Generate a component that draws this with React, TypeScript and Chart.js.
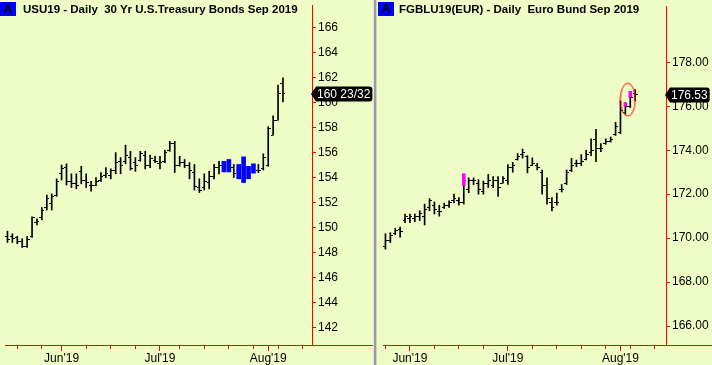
import React, { useEffect, useRef } from "react";
import { Chart, registerables } from "chart.js";

Chart.register(...registerables);

const FONT = "'Liberation Sans', Arial, Helvetica, sans-serif";
const BG = "#EDFDC5";

// ---------------- USU19 (left panel) ----------------
const usTitle = "USU19 - Daily  30 Yr U.S.Treasury Bonds Sep 2019";
const usOpen = [
  149.3, 149.3, 149.2, 148.9, 148.5, 149.3, 150.4, 150.8, 151.6, 151.9,
  152.6, 154.3, 154.8, 153.7, 153.5, 154.5, 153.8, 153.4, 153.4, 153.8,
  154.2, 154.2, 154.6, 155.3, 155.3, 155.6, 155.2, 155.4, 155.8, 155.0,
  155.4, 155.1, 155.3, 156.2, 156.7, 155.0, 155.2, 155.0, 154.4, 153.2,
  153.2, 153.6, 154.1, 154.8, 155.0, 155.2, 154.8, 154.8, 155.0, 154.6,
  154.9, 154.6, 154.7, 155.0, 157.4, 158.6, 161.55,
];
const usHigh = [
  149.7, 149.5, 149.3, 149.1, 149.3, 150.85, 150.7, 151.6, 152.6, 152.7,
  153.9, 155.0, 155.1, 154.3, 154.3, 154.9, 154.3, 153.7, 154.0, 154.4,
  154.8, 154.7, 156.0, 155.6, 156.6, 156.1, 155.6, 156.1, 156.1, 155.8,
  155.7, 155.7, 156.2, 156.9, 156.9, 155.7, 155.45, 155.2, 155.05, 153.9,
  154.3, 154.5, 155.05, 155.3, 155.3, 155.45, 155.05, 155.05, 155.66, 154.9,
  155.1, 155.05, 155.9, 158.08, 158.95, 161.4, 161.98,
];
const usLow = [
  148.8, 148.8, 148.7, 148.4, 148.4, 149.2, 150.2, 150.6, 151.4, 151.4,
  152.5, 153.8, 153.4, 153.2, 153.1, 153.5, 153.2, 152.9, 153.35, 153.7,
  154.0, 153.9, 154.3, 154.3, 155.1, 154.6, 154.5, 155.3, 154.7, 154.8,
  155.2, 154.7, 155.2, 156.1, 154.4, 154.9, 154.8, 153.9, 153.0, 152.8,
  153.0, 153.1, 153.9, 154.3, 154.45, 154.45, 154.0, 153.9, 153.6, 153.9,
  154.35, 154.4, 154.6, 154.9, 157.4, 158.6, 160.05,
];
const usClose = [
  149.0, 149.1, 148.9, 148.5, 149.0, 150.8, 150.5, 151.4, 152.3, 152.5,
  153.7, 154.7, 153.7, 153.5, 153.4, 153.8, 153.6, 153.4, 153.7, 154.1,
  154.3, 154.6, 155.2, 155.0, 155.8, 154.7, 155.0, 155.9, 155.0, 155.5,
  155.3, 155.2, 156.0, 156.7, 155.0, 155.2, 155.0, 154.6, 153.3, 153.0,
  153.7, 154.1, 154.8, 155.0, 154.6, 154.6, 154.3, 154.2, 154.0, 154.1,
  154.5, 154.6, 155.6, 157.95, 158.55, 160.7, 160.71875,
];
const usBlueBars = [44, 45, 47, 48, 49, 50];
const usYTicks = [142, 144, 146, 148, 150, 152, 154, 156, 158, 160, 162, 164, 166];
const usMonthAt = [11, 31, 53];
const usMonthLabels = ["Jun'19", "Jul'19", "Aug'19"];
const usWeekAt = [2, 7, 16, 21, 26, 35, 40, 45, 50, 55, 60];

// ---------------- FGBLU19 (right panel) ----------------
const fgTitle = "FGBLU19(EUR) - Daily  Euro Bund Sep 2019";
const fgOpen = [
  169.6, 169.9, 170.2, 170.4, 170.8, 170.9, 170.9, 171.0, 171.0, 171.4,
  171.5, 171.2, 171.4, 171.5, 171.7, 171.7, 171.6, 172.2, 172.6, 172.5,
  172.1, 172.5, 172.4, 172.6, 172.5, 172.6, 173.2, 173.6, 173.8, 173.7,
  173.3, 173.3, 173.0, 172.4, 171.6, 171.6, 172.2, 172.5, 173.1, 173.4,
  173.4, 173.6, 173.9, 174.5, 174.1, 174.3, 174.4, 174.7, 174.8, 175.7,
  176.0, 176.6,
];
const fgHigh = [
  170.2, 170.25, 170.45, 170.5, 171.1, 171.1, 171.1, 171.25, 171.55, 171.8,
  171.65, 171.5, 171.6, 171.7, 172.0, 171.85, 172.9, 172.74, 172.74, 172.66,
  172.6, 172.9, 172.8, 172.8, 172.8, 173.35, 173.45, 173.85, 174.05, 173.75,
  173.65, 173.4, 173.1, 172.74, 171.85, 172.05, 172.44, 173.1, 173.63, 173.55,
  173.8, 174.0, 174.52, 174.95, 174.3, 174.52, 174.6, 175.27, 176.24, 176.16,
  176.68, 176.76,
];
const fgLow = [
  169.5, 169.8, 170.15, 170.05, 170.7, 170.7, 170.75, 170.8, 170.6, 171.25,
  171.1, 171.0, 171.35, 171.4, 171.6, 171.5, 171.55, 172.07, 172.44, 172.0,
  172.0, 172.3, 172.3, 171.9, 172.5, 172.44, 173.0, 173.55, 173.64, 172.97,
  173.3, 173.1, 172.0, 171.55, 171.24, 171.5, 172.1, 172.44, 173.03, 173.25,
  173.3, 173.56, 173.75, 173.48, 173.93, 174.27, 174.37, 174.67, 174.75, 175.64,
  175.94, 176.24,
];
const fgClose = [
  169.9, 170.1, 170.35, 170.3, 171.0, 171.0, 171.0, 171.1, 171.3, 171.7,
  171.3, 171.2, 171.5, 171.6, 171.8, 171.6, 172.6, 172.6, 172.6, 172.2,
  172.5, 172.6, 172.6, 172.3, 172.7, 173.2, 173.3, 173.7, 173.9, 173.2,
  173.4, 173.2, 172.4, 171.8, 171.4, 171.6, 172.2, 173.0, 173.3, 173.4,
  173.5, 173.8, 174.0, 174.1, 174.1, 174.4, 174.5, 175.1, 175.8, 176.0,
  176.4, 176.53,
];
const fgMagentaAt = [16, 49, 50];
const fgMagentaLow = [172.4, 176.01, 176.42];
const fgMagentaHigh = [172.93, 176.16, 176.68];
const fgCircleX = [49.5];
const fgCircleY = [176.3];
const fgYTicks = [166, 168, 170, 172, 174, 176, 178];
const fgMonthAt = [5, 25, 48];
const fgMonthLabels = ["Jun'19", "Jul'19", "Aug'19"];
const fgWeekAt = [0, 10, 15, 20, 30, 35, 40, 45, 50, 55];

const fmt32 = (v: number) => {
  const whole = Math.floor(v);
  const n = Math.round((v - whole) * 32);
  return `${whole} ${n}/32`;
};

function tickImage(side: "left" | "right") {
  const c = document.createElement("canvas");
  c.width = 5;
  c.height = 1;
  const g = c.getContext("2d")!;
  g.fillStyle = "#000";
  g.fillRect(side === "left" ? 0 : 3, 0, 2, 1);
  return c;
}

function ellipseImage() {
  const c = document.createElement("canvas");
  c.width = 17;
  c.height = 35;
  const g = c.getContext("2d")!;
  g.strokeStyle = "#FF0000";
  g.lineWidth = 1;
  g.beginPath();
  g.ellipse(8.5, 17.5, 7.5, 16.5, 0, 0, Math.PI * 2);
  g.stroke();
  return c;
}

type Spec = {
  open: number[];
  high: number[];
  low: number[];
  close: number[];
  wideAt: number[];
  wideColor: string;
  markAt: number[];
  markLow: number[];
  markHigh: number[];
  markColor: string;
  circleX: number[];
  circleY: number[];
  yTicks: number[];
  yMin: number;
  yMax: number;
  yFormat: (v: number) => string;
  xMin: number;
  xMax: number;
  monthAt: number[];
  monthLabels: string[];
  weekAt: number[];
  axisWidth: number;
  tagText: string;
};

function buildConfig(s: Spec): any {
  const openImg = tickImage("left");
  const closeImg = tickImage("right");
  const ellImg = ellipseImage();
  const idx = s.open.map((_, i) => i);
  const normal = idx.filter((i) => !s.wideAt.includes(i));
  const last = s.close[s.close.length - 1];

  const datasets: any[] = [
    {
      type: "scatter",
      data: s.circleX.map((x, j) => ({ x, y: s.circleY[j] })),
      pointStyle: ellImg,
      pointRadius: 5,
      order: 0,
    },
    {
      type: "bar",
      data: s.markAt.map((x, j) => ({ x, y: [s.markLow[j], s.markHigh[j]] })),
      backgroundColor: s.markColor,
      barThickness: 3,
      grouped: false,
      order: 1,
    },
    {
      type: "scatter",
      data: normal.map((i) => ({ x: i, y: s.open[i] })),
      pointStyle: openImg,
      pointRadius: 3,
      order: 2,
    },
    {
      type: "scatter",
      data: normal.map((i) => ({ x: i, y: s.close[i] })),
      pointStyle: closeImg,
      pointRadius: 3,
      order: 2,
    },
    {
      type: "bar",
      data: s.wideAt.map((i) => ({ x: i, y: [s.low[i], s.high[i]] })),
      backgroundColor: s.wideColor,
      barThickness: 4,
      grouped: false,
      order: 3,
    },
    {
      type: "bar",
      data: normal.map((i) => ({ x: i, y: [s.low[i], s.high[i]] })),
      backgroundColor: "#000000",
      barThickness: 1,
      grouped: false,
      order: 4,
    },
  ].filter((d) => d.data.length > 0);

  const tagPlugin = {
    id: "priceTag",
    afterDraw(chart: any) {
      const { ctx, chartArea, scales } = chart;
      const y = Math.round(scales.y.getPixelForValue(last));
      const x0 = chartArea.right - 1;
      ctx.save();
      ctx.font = `12px ${FONT}`;
      const w = ctx.measureText(s.tagText).width;
      const h = 15;
      const bx = x0 + 5;
      const r = 3;
      const top = y - h / 2;
      const right = bx + w + 3;
      ctx.fillStyle = "#000";
      ctx.beginPath();
      ctx.moveTo(x0, y);
      ctx.lineTo(bx, top);
      ctx.lineTo(right - r, top);
      ctx.quadraticCurveTo(right, top, right, top + r);
      ctx.lineTo(right, top + h - r);
      ctx.quadraticCurveTo(right, top + h, right - r, top + h);
      ctx.lineTo(bx, top + h);
      ctx.closePath();
      ctx.fill();
      ctx.fillStyle = "#fff";
      ctx.textBaseline = "middle";
      ctx.textAlign = "left";
      ctx.fillText(s.tagText, bx + 1, y + 0.5);
      ctx.restore();
    },
  };

  return {
    type: "scatter",
    data: { datasets },
    plugins: [tagPlugin],
    options: {
      animation: false,
      responsive: false,
      events: [],
      layout: { padding: 0 },
      plugins: { legend: { display: false }, tooltip: { enabled: false }, title: { display: false } },
      scales: {
        x: {
          type: "linear",
          position: "bottom",
          min: s.xMin,
          max: s.xMax,
          offset: false,
          afterBuildTicks: (sc: any) => {
            sc.ticks = [...s.monthAt, ...s.weekAt].sort((a, b) => a - b).map((v) => ({ value: v }));
          },
          afterFit: (sc: any) => {
            sc.height = 20;
            sc.paddingLeft = 0;
            sc.paddingRight = 0;
          },
          ticks: {
            autoSkip: false,
            maxRotation: 0,
            minRotation: 0,
            padding: 0,
            color: "#000",
            font: { family: FONT, size: 12 },
            callback: (v: number) => {
              const j = s.monthAt.indexOf(v);
              return j >= 0 ? s.monthLabels[j] : "";
            },
          },
          grid: {
            offset: false,
            drawOnChartArea: false,
            tickLength: 6,
            tickColor: "#FF0000",
            tickWidth: 1,
            tickBorderDash: (c: any) =>
              c.tick && s.monthAt.includes(c.tick.value) ? [] : [3, 30],
          },
          border: { color: "#FF0000", width: 1 },
        },
        y: {
          type: "linear",
          position: "right",
          min: s.yMin,
          max: s.yMax,
          afterBuildTicks: (sc: any) => {
            sc.ticks = s.yTicks.map((v) => ({ value: v }));
          },
          afterFit: (sc: any) => {
            sc.width = s.axisWidth;
            sc.paddingTop = 0;
            sc.paddingBottom = 0;
          },
          ticks: {
            padding: 2,
            color: "#000",
            font: { family: FONT, size: 12 },
            callback: (v: number) => s.yFormat(v),
          },
          grid: { drawOnChartArea: false, tickLength: 4, tickColor: "#FF0000" },
          border: { color: "#FF0000", width: 1 },
        },
      },
    },
  };
}

export default function App() {
  const leftRef = useRef<HTMLCanvasElement>(null);
  const rightRef = useRef<HTMLCanvasElement>(null);

  useEffect(() => {
    const charts: Chart[] = [];
    charts.push(
      new Chart(
        leftRef.current!,
        buildConfig({
          open: usOpen,
          high: usHigh,
          low: usLow,
          close: usClose,
          wideAt: usBlueBars,
          wideColor: "#0000FF",
          markAt: [],
          markLow: [],
          markHigh: [],
          markColor: "#FF00FF",
          circleX: [],
          circleY: [],
          yTicks: usYTicks,
          yMin: 140.59,
          yMax: 167.82,
          yFormat: (v) => String(v),
          xMin: -0.5,
          xMax: 61.9,
          monthAt: usMonthAt,
          monthLabels: usMonthLabels,
          weekAt: usWeekAt,
          axisWidth: 62,
          tagText: fmt32(usClose[usClose.length - 1]),
        })
      )
    );
    charts.push(
      new Chart(
        rightRef.current!,
        buildConfig({
          open: fgOpen,
          high: fgHigh,
          low: fgLow,
          close: fgClose,
          wideAt: [],
          wideColor: "#0000FF",
          markAt: fgMagentaAt,
          markLow: fgMagentaLow,
          markHigh: fgMagentaHigh,
          markColor: "#FF00FF",
          circleX: fgCircleX,
          circleY: fgCircleY,
          yTicks: fgYTicks,
          yMin: 165.14,
          yMax: 180.56,
          yFormat: (v) => v.toFixed(2),
          xMin: -0.5,
          xMax: 57.3,
          monthAt: fgMonthAt,
          monthLabels: fgMonthLabels,
          weekAt: fgWeekAt,
          axisWidth: 46,
          tagText: fgClose[fgClose.length - 1].toFixed(2),
        })
      )
    );
    return () => charts.forEach((c) => c.destroy());
  }, []);

  const abs = (o: React.CSSProperties): React.CSSProperties => ({ position: "absolute", ...o });
  const titleFont = `bold 11.5px ${FONT}`;

  return (
    <div
      style={{
        position: "fixed",
        left: 0,
        top: 0,
        width: 712,
        height: 365,
        background: BG,
        overflow: "hidden",
        fontFamily: FONT,
      }}
    >
      <canvas ref={leftRef} width={374} height={365} style={abs({ left: 0, top: 0, width: 374, height: 365 })} />
      <canvas ref={rightRef} width={335} height={365} style={abs({ left: 377, top: 0, width: 335, height: 365 })} />
      {/* bottom axis line extensions under the price scales */}
      <div style={abs({ left: 313, top: 345, width: 61, height: 1, background: "#FF0000" })} />
      <div style={abs({ left: 667, top: 345, width: 45, height: 1, background: "#FF0000" })} />
      {/* panel separator */}
      <div style={abs({ left: 373, top: 0, width: 1, height: 365, background: "#E4E4E4" })} />
      <div style={abs({ left: 374, top: 0, width: 2, height: 365, background: "#9C9C9C" })} />
      <div style={abs({ left: 376, top: 0, width: 1, height: 365, background: "#CFCFCF" })} />
      {/* titles */}
      <div style={abs({ left: 0, top: 2, width: 16, height: 14, background: "#0000FF", color: "#000", font: `bold 12px ${FONT}`, lineHeight: "14px", textAlign: "center" })}>A</div>
      <div style={abs({ left: 23, top: 2, font: titleFont, lineHeight: "14px", whiteSpace: "pre", color: "#000" })}>{usTitle}</div>
      <div style={abs({ left: 378, top: 2, width: 16, height: 14, background: "#0000FF", color: "#000", font: `bold 12px ${FONT}`, lineHeight: "14px", textAlign: "center" })}>A</div>
      <div style={abs({ left: 399, top: 2, font: titleFont, lineHeight: "14px", whiteSpace: "pre", color: "#000" })}>{fgTitle}</div>
    </div>
  );
}
